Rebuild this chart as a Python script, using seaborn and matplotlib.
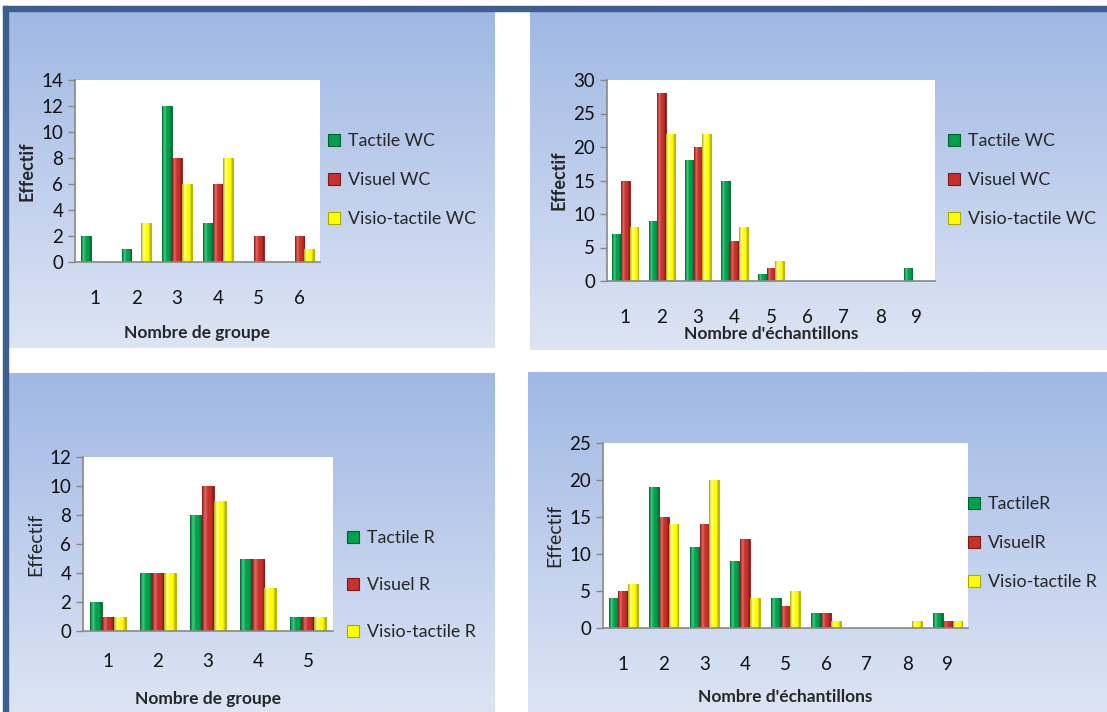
import numpy as np
import pandas as pd
import matplotlib.pyplot as plt
import seaborn as sns
from matplotlib.patches import Rectangle
from matplotlib.colors import LinearSegmentedColormap

sns.set_theme(style="white")
plt.rcParams['font.family'] = ['Lato', 'DejaVu Sans']

# data
groupes_wc = ["1", "2", "3", "4", "5", "6"]
tactile_wc_g = [2, 1, 12, 3, 0, 0]
visuel_wc_g = [0, 0, 8, 6, 2, 2]
visio_wc_g = [0, 3, 6, 8, 0, 1]

echant_wc = ["1", "2", "3", "4", "5", "6", "7", "8", "9"]
tactile_wc_e = [7, 9, 18, 15, 1, 0, 0, 0, 2]
visuel_wc_e = [15, 28, 20, 6, 2, 0, 0, 0, 0]
visio_wc_e = [8, 22, 22, 8, 3, 0, 0, 0, 0]

groupes_r = ["1", "2", "3", "4", "5"]
tactile_r_g = [2, 4, 8, 5, 1]
visuel_r_g = [1, 4, 10, 5, 1]
visio_r_g = [1, 4, 9, 3, 1]

echant_r = ["1", "2", "3", "4", "5", "6", "7", "8", "9"]
tactile_r_e = [4, 19, 11, 9, 4, 2, 0, 0, 2]
visuel_r_e = [5, 15, 14, 12, 3, 2, 0, 0, 1]
visio_r_e = [6, 14, 20, 4, 5, 1, 0, 1, 1]

colors = ["#00a04c", "#c8302c", "#ffff00"]
light = ["#40d080", "#e86a60", "#ffff90"]
dark = ["#006030", "#7a1a18", "#a8a800"]

W, H = 1107, 712
fig = plt.figure(figsize=(W / 100, H / 100), dpi=100)
fig.patch.set_facecolor("white")

def px_rect(x0, y0, x1, y1):
    return [x0 / W, 1 - y1 / H, (x1 - x0) / W, (y1 - y0) / H]

grad = np.linspace(0, 1, 256).reshape(-1, 1)
bg_cmap = LinearSegmentedColormap.from_list("bg", ["#a0b8e4", "#dde5f4"])

# panel backgrounds
for r in [(9, 12, 495, 348), (530, 12, 1107, 350), (9, 373, 495, 712), (528, 372, 1107, 712)]:
    bg = fig.add_axes(px_rect(*r), zorder=0)
    bg.imshow(grad, aspect="auto", cmap=bg_cmap, extent=[0, 1, 0, 1], origin="upper")
    bg.axis("off")

# dark border lines top and left
border = fig.add_axes([0, 0, 1, 1], zorder=1)
border.set_xlim(0, W)
border.set_ylim(H, 0)
border.axis("off")
border.add_patch(Rectangle((3, 6), W, 5, color="#3d5f8f"))
border.add_patch(Rectangle((3, 6), 5, H, color="#3d5f8f"))

bar_cmaps = [LinearSegmentedColormap.from_list("c%d" % i, [dark[i], light[i], colors[i], colors[i], dark[i]])
             for i in range(3)]

def panel(rect, cats, series, names, ymax, ystep, xlabel, ybold, leg_xy, leg_space,
          tickpad, labpad, ysize):
    ax = fig.add_axes(px_rect(*rect), zorder=2)
    df = pd.DataFrame({
        "cat": np.tile(cats, 3),
        "val": np.concatenate(series),
        "serie": np.repeat(names, len(cats)),
    })
    sns.barplot(data=df, x="cat", y="val", hue="serie", palette=colors,
                width=0.72, ax=ax, legend=False, saturation=1)
    ax.set_xlim(-0.5, len(cats) - 0.5)
    ax.set_ylim(0, ymax)
    # cylinder-like shading on each bar
    for i, p in enumerate(list(ax.patches)):
        k = i // len(cats)
        p.set_edgecolor(dark[k])
        p.set_linewidth(0.6)
        x, y = p.get_x(), p.get_y()
        w, h = p.get_width(), p.get_height()
        if h > 0:
            im = ax.imshow(np.linspace(0, 1, 64).reshape(1, -1), cmap=bar_cmaps[k], aspect="auto",
                           extent=[x, x + w, y, y + h], zorder=p.get_zorder() + 0.5,
                           interpolation="bilinear")
            im.set_clip_path(p)
    ax.set_facecolor("white")
    ax.set_aspect("auto")
    ax.set_xlim(-0.5, len(cats) - 0.5)
    ax.set_ylim(0, ymax)
    ax.set_yticks(np.arange(0, ymax + 0.1, ystep))
    ax.set_xticks(np.arange(len(cats)))
    ax.set_xticklabels(cats)
    ax.set_xticks(np.arange(len(cats) + 1) - 0.5, minor=True)
    ax.tick_params(axis="x", which="major", length=0, pad=tickpad, labelsize=13.5, colors="#111111")
    ax.tick_params(axis="x", which="minor", length=6, width=1, color="#888888", direction="out")
    ax.tick_params(axis="y", length=5, width=1, color="#888888", direction="out", labelsize=13.5,
                   left=True, labelcolor="#111111")
    for s in ["top", "right"]:
        ax.spines[s].set_visible(False)
    for s in ["left", "bottom"]:
        ax.spines[s].set_color("#888888")
        ax.spines[s].set_linewidth(1.2)
    ax.set_xlabel(xlabel, fontsize=12.5, fontweight="bold", labelpad=labpad)
    ax.set_ylabel("Effectif", fontsize=ysize, fontweight="bold" if ybold else "normal", labelpad=4)
    handles = [Rectangle((0, 0), 1, 1, facecolor=colors[k], edgecolor=dark[k], linewidth=0.8)
               for k in range(3)]
    ax.legend(handles, names, loc="upper left", bbox_to_anchor=(leg_xy[0] / W, 1 - leg_xy[1] / H),
              bbox_transform=fig.transFigure, frameon=False, fontsize=12.8,
              handlelength=0.7, handleheight=0.7, handletextpad=0.4, labelspacing=leg_space,
              borderaxespad=0, borderpad=0)
    return ax

panel((75, 80, 320, 262), groupes_wc, [tactile_wc_g, visuel_wc_g, visio_wc_g],
      ["Tactile WC", "Visuel WC", "Visio-tactile WC"], 14, 2, "Nombre de groupe", True,
      (328, 133), 1.3, 20, 13, 13)
panel((607, 80, 935, 281), echant_wc, [tactile_wc_e, visuel_wc_e, visio_wc_e],
      ["Tactile WC", "Visuel WC", "Visio-tactile WC"], 30, 5, "Nombre d'échantillons", True,
      (948, 133), 1.3, 20, 0, 13)
panel((83, 457, 333, 631), groupes_r, [tactile_r_g, visuel_r_g, visio_r_g],
      ["Tactile R", "Visuel R", "Visio-tactile R"], 12, 2, "Nombre de groupe", False,
      (347, 530), 1.75, 16, 15, 14)
panel((603, 443, 968, 628), echant_r, [tactile_r_e, visuel_r_e, visio_r_e],
      ["TactileR", "VisuelR", "Visio-tactile R"], 25, 5, "Nombre d'échantillons", False,
      (968, 496), 1.3, 20, 12, 14)

fig.savefig("out.png", dpi=100)
